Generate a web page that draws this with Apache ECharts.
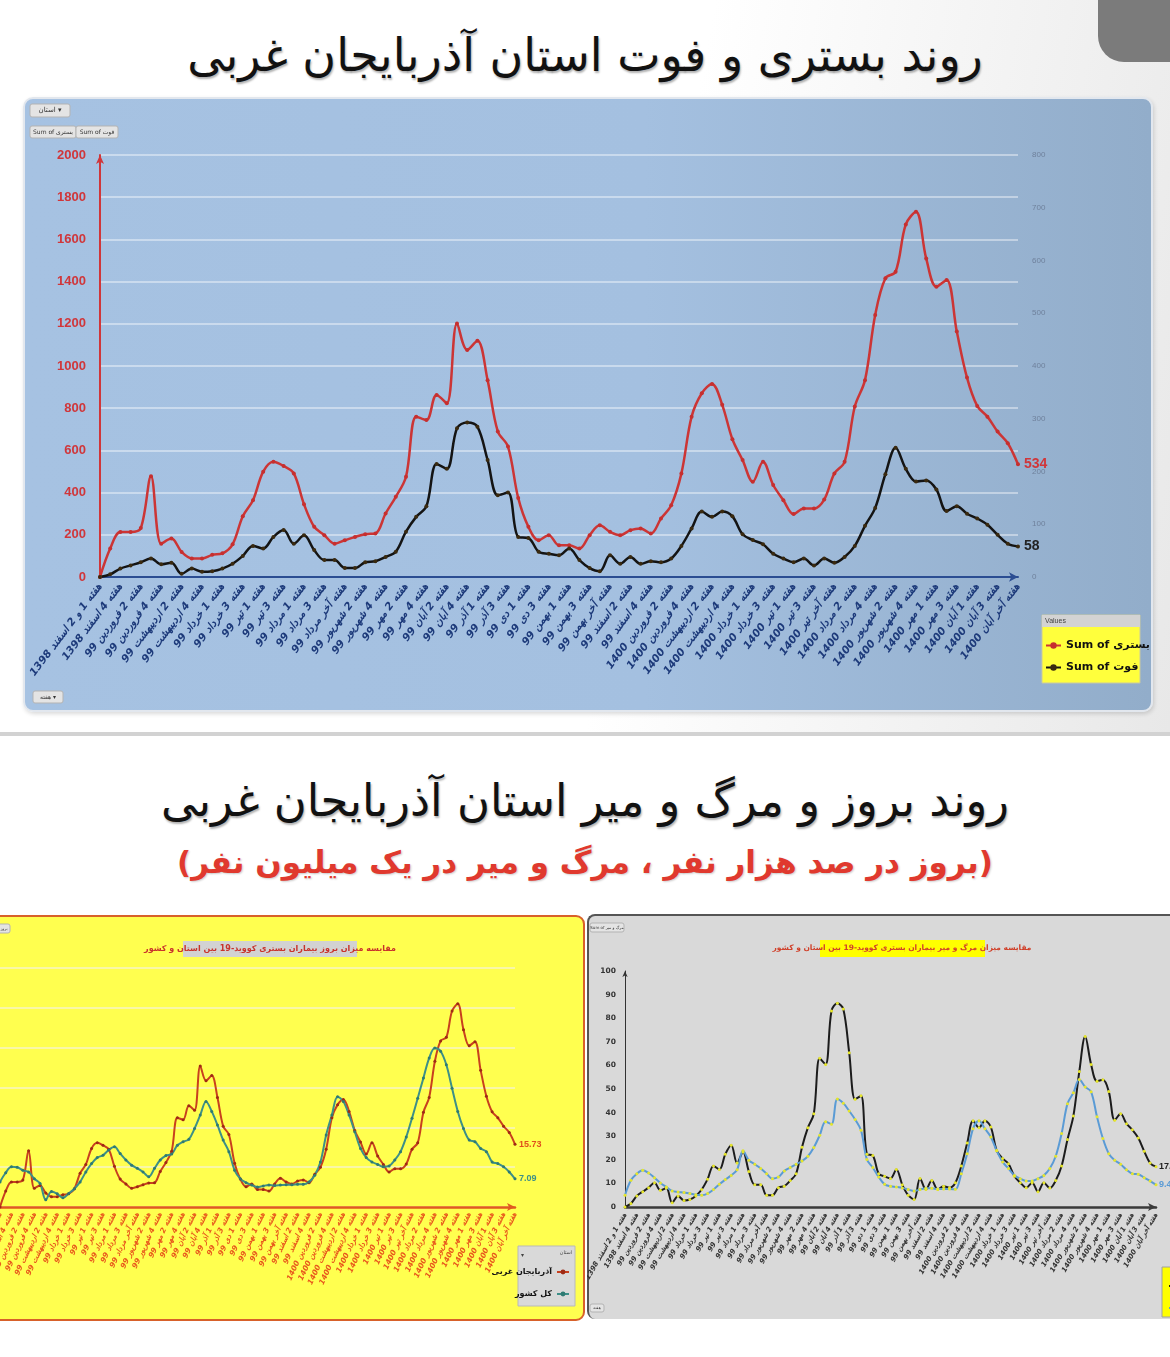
<!DOCTYPE html>
<html>
<head>
<meta charset="UTF-8">
<title>روند بستری و فوت استان آذربایجان غربی</title>
<script src="https://cdn.jsdelivr.net/npm/echarts@6.0.0/dist/echarts.min.js"></script>
<style>
  body { margin:0; width:1170px; height:1357px; position:relative; overflow:hidden; background:#fff; font-family:"DejaVu Sans", sans-serif; }
  .abs { position:absolute; }
  #topBg { left:0; top:0; width:1170px; height:732px; background:linear-gradient(100deg,#ffffff 55%,#e8e8e8 100%); }
  #corner { left:1098px; top:0; width:72px; height:62px; background:#7b7b7b; border-bottom-left-radius:26px; }
  #sep { left:0; top:732px; width:1170px; height:4px; background:#d2d2d2; }
  .title { left:0; width:1170px; text-align:center; white-space:nowrap; }
  #title1 { top:24px; line-height:62px; font-size:46px; color:#111; text-shadow:1px 2px 2px rgba(0,0,0,.3); }
  #title2 { top:770px; line-height:62px; font-size:45px; color:#111; text-shadow:1px 2px 2px rgba(0,0,0,.3); }
  #title3 { top:837px; line-height:50px; font-size:31px; font-weight:bold; color:#e0392e; text-shadow:1px 1px 2px rgba(0,0,0,.2); }
  #panelTop { left:23px; top:97px; width:1130px; height:615px; box-sizing:border-box; border:2px solid #e2e7ee; border-radius:10px;
              background:linear-gradient(90deg,#a6c2e2 0%,#a4c0e0 55%,#92adca 100%); box-shadow:1px 2px 4px rgba(0,0,0,.15); }
  #panelInc { left:-4px; top:915px; width:589px; height:406px; box-sizing:border-box; border:2px solid #d8612a; border-radius:0 9px 9px 0; background:#ffff4f; }
  #panelMort { left:587px; top:914px; width:590px; height:405px; box-sizing:border-box; border-top:2px solid #555; border-left:2px solid #555; border-radius:8px 0 0 8px; background:#d9d9d9; }
</style>
</head>
<body>
<div id="topBg" class="abs"></div>
<div id="corner" class="abs"></div>
<div id="title1" class="abs title" dir="rtl">روند بستری و فوت استان آذربایجان غربی</div>
<div id="panelTop" class="abs"></div>
<div id="chartTop" class="abs" style="left:23px;top:97px;width:1130px;height:615px;"></div>
<div id="sep" class="abs"></div>
<div id="title2" class="abs title" dir="rtl">روند بروز و مرگ و میر استان آذربایجان غربی</div>
<div id="title3" class="abs title" dir="rtl">(بروز در صد هزار نفر ، مرگ و میر در یک میلیون نفر)</div>
<div id="panelInc" class="abs"></div>
<div id="panelMort" class="abs"></div>
<div id="chartInc" class="abs" style="left:0;top:915px;width:585px;height:405px;"></div>
<div id="chartMort" class="abs" style="left:587px;top:915px;width:583px;height:405px;"></div>

<script type="text/javascript">
// هفته ها (هر دو هفته یک برچسب دیده می شود)
var weekLabels = [
  'هفته 1 و 2 اسفند 1398', 'هفته 3 اسفند 1398', 'هفته 4 اسفند 1398',
  'هفته 1 فروردین 99', 'هفته 2 فروردین 99', 'هفته 3 فروردین 99', 'هفته 4 فروردین 99',
  'هفته 1 اردیبهشت 99', 'هفته 2 اردیبهشت 99', 'هفته 3 اردیبهشت 99', 'هفته 4 اردیبهشت 99', 'هفته آخر اردیبهشت 99',
  'هفته 1 خرداد 99', 'هفته 2 خرداد 99', 'هفته 3 خرداد 99', 'هفته 4 خرداد 99',
  'هفته 1 تیر 99', 'هفته 2 تیر 99', 'هفته 3 تیر 99', 'هفته 4 تیر 99',
  'هفته 1 مرداد 99', 'هفته 2 مرداد 99', 'هفته 3 مرداد 99', 'هفته 4 مرداد 99', 'هفته آخر مرداد 99',
  'هفته 1 شهریور 99', 'هفته 2 شهریور 99', 'هفته 3 شهریور 99', 'هفته 4 شهریور 99',
  'هفته 1 مهر 99', 'هفته 2 مهر 99', 'هفته 3 مهر 99', 'هفته 4 مهر 99',
  'هفته 1 آبان 99', 'هفته 2 آبان 99', 'هفته 3 آبان 99', 'هفته 4 آبان 99', 'هفته آخر آبان 99',
  'هفته 1 آذر 99', 'هفته 2 آذر 99', 'هفته 3 آذر 99', 'هفته 4 آذر 99',
  'هفته 1 دی 99', 'هفته 2 دی 99', 'هفته 3 دی 99', 'هفته 4 دی 99',
  'هفته 1 بهمن 99', 'هفته 2 بهمن 99', 'هفته 3 بهمن 99', 'هفته 4 بهمن 99', 'هفته آخر بهمن 99',
  'هفته 1 اسفند 99', 'هفته 2 اسفند 99', 'هفته 3 اسفند 99', 'هفته 4 اسفند 99',
  'هفته 1 فروردین 1400', 'هفته 2 فروردین 1400', 'هفته 3 فروردین 1400', 'هفته 4 فروردین 1400',
  'هفته 1 اردیبهشت 1400', 'هفته 2 اردیبهشت 1400', 'هفته 3 اردیبهشت 1400', 'هفته 4 اردیبهشت 1400', 'هفته آخر اردیبهشت 1400',
  'هفته 1 خرداد 1400', 'هفته 2 خرداد 1400', 'هفته 3 خرداد 1400', 'هفته 4 خرداد 1400',
  'هفته 1 تیر 1400', 'هفته 2 تیر 1400', 'هفته 3 تیر 1400', 'هفته 4 تیر 1400', 'هفته آخر تیر 1400',
  'هفته 1 مرداد 1400', 'هفته 2 مرداد 1400', 'هفته 3 مرداد 1400', 'هفته 4 مرداد 1400',
  'هفته 1 شهریور 1400', 'هفته 2 شهریور 1400', 'هفته 3 شهریور 1400', 'هفته 4 شهریور 1400', 'هفته آخر شهریور 1400',
  'هفته 1 مهر 1400', 'هفته 2 مهر 1400', 'هفته 3 مهر 1400', 'هفته 4 مهر 1400',
  'هفته 1 آبان 1400', 'هفته 2 آبان 1400', 'هفته 3 آبان 1400', 'هفته 4 آبان 1400', 'هفته آخر آبان 1400'
];

// بستری و فوت (تعداد)
var hospitalized = [0,135,213,213,232,478,158,182,119,88, 88,105,112,155,288,364,499,546,526,491,
  345,238,198,158,174,190,203,206,301,380, 475,760,744,863,824,1202,1076,1120,933,690,
  618,375,238,174,198,150,150,135,198,245, 214,198,222,230,206,277,340,491,760,871,
  915,816,653,554,451,546,436,364,298,325, 325,367,491,546,808,933,1242,1416,1447,1671,
  1731,1510,1376,1408,1163,945,811,760,689,634, 534];
var deaths = [0,5,16,22,28,35,24,27,6,16, 10,11,16,25,40,59,54,76,89,63,
  79,51,32,32,17,17,28,30,38,48, 86,114,134,214,205,282,293,285,222,155,
  160,76,74,48,44,41,54,32,17,11, 41,25,38,25,30,28,35,59,92,124,
  114,124,115,81,70,62,44,35,28,35, 22,35,27,38,59,97,131,195,245,205,
  181,183,166,125,134,120,111,99,80,63, 58];

// بروز بستری در صد هزار نفر
var incProvince = [0,4.0,6.3,6.3,6.8,14.1,4.7,5.4,3.5,2.6, 2.6,3.1,3.3,4.6,8.5,10.7,14.7,16.1,15.5,14.5,
  10.2,7.0,5.8,4.7,5.1,5.6,6.0,6.1,8.9,11.2, 14.0,22.4,21.9,25.4,24.3,35.4,31.7,33.0,27.5,20.3,
  18.2,11.0,7.0,5.1,5.8,4.4,4.4,4.0,5.8,7.2, 6.3,5.8,6.5,6.8,6.1,8.2,10.0,14.5,22.4,25.7,
  27.0,24.0,19.2,16.3,13.3,16.1,12.8,10.7,8.8,9.6, 9.6,10.8,14.5,16.1,23.8,27.5,36.6,41.7,42.6,49.2,
  51.0,44.5,40.5,41.5,34.3,27.8,23.9,22.4,20.3,18.7, 15.73];
var incCountry = [6.3,8.6,10.1,10.0,9.2,8.8,7.1,5.9,1.8,3.9, 3.3,2.3,3.4,4.6,6.3,8.8,10.9,12.4,13.0,14.3,
  15.1,13.4,11.8,10.5,9.7,8.8,7.6,9.7,11.8,12.9, 13.3,15.5,16.4,17.0,19.7,23.1,26.5,24.0,20.6,16.8,
  13.9,9.2,7.1,6.1,5.5,5.0,5.3,5.5,5.4,5.5, 5.6,5.6,5.7,5.7,6.3,8.0,11.3,18.1,23.1,27.7,
  26.5,23.1,18.9,14.7,12.4,11.3,10.7,10.1,10.3,11.8, 13.9,17.6,22.3,27.3,32.4,37.4,39.9,39.1,35.7,29.8,
  24.0,19.7,16.8,16.4,14.7,13.9,11.3,10.9,10.1,8.8, 7.09];

// مرگ و میر در یک میلیون نفر
var mortProvince = [0,1.5,4.7,6.5,8.2,10.3,7.1,8.0,1.8,4.7, 2.8,3.2,4.7,7.4,11.8,17.4,15.9,22.4,26.2,18.6,
  23.3,15.0,9.4,9.4,5.0,5.0,8.2,8.8,11.2,14.1, 25.3,33.6,39.5,63.0,60.4,83.1,86.3,83.9,65.4,45.7,
  47.1,22.4,21.8,14.1,13.0,12.1,15.9,9.4,5.0,3.2, 12.1,7.4,11.2,7.4,8.8,8.2,10.3,17.4,27.1,36.5,
  33.6,36.5,33.9,23.9,20.6,18.3,13.0,10.3,8.2,10.3, 6.5,10.3,8.0,11.2,17.4,28.6,38.6,57.4,72.2,60.4,
  53.3,53.9,48.9,36.8,39.5,35.3,32.7,29.2,23.6,18.6, 17.08];
var mortCountry = [5.0,11.3,14.1,15.6,14.4,12.4,10.2,8.5,6.8,6.4, 6.1,5.7,5.2,5.0,5.7,7.4,9.6,11.6,13.4,15.8,
  23.8,19.8,18.1,16.3,14.1,12.0,12.7,15.3,16.7,18.1, 19.5,21.5,25.2,30.4,36.1,35.1,45.8,44.0,40.7,37.1,
  32.5,20.1,16.7,12.7,9.6,8.8,8.5,8.1,7.4,6.8, 7.4,7.9,7.9,7.6,7.6,7.6,7.5,14.1,22.6,33.2,
  36.5,33.2,29.7,23.8,19.1,16.3,13.4,12.0,11.0,11.0, 12.0,13.4,16.3,21.5,31.1,43.8,48.4,54.0,50.9,48.8,
  38.2,29.0,22.6,19.8,18.1,15.8,14.1,13.9,12.4,11.0, 9.40];

var FA = '"DejaVu Sans", sans-serif';
var NUM = '"Liberation Sans", "DejaVu Sans", sans-serif';
var NARROW = '"Liberation Sans Narrow", "DejaVu Sans", sans-serif';

// دکمه های کوچک pivot chart
function fieldButton(x, y, w, h, text, size) {
    return {
        type: 'group', x: x, y: y, silent: true,
        children: [
            { type: 'rect', shape: { x: 0, y: 0, width: w, height: h, r: 2 },
              style: { fill: '#e4e4e4', stroke: '#b3b3b3', lineWidth: 1 } },
            { type: 'text', style: { x: w / 2, y: h / 2, text: text, fill: '#333',
              font: size + 'px ' + FA, align: 'center', verticalAlign: 'middle' } }
        ]
    };
}

function fixed2(p) { return p.value.toFixed(2); }
function plain(v) { return String(v); }

// ---------- نمودار بالا: بستری و فوت ----------
var topChart = echarts.init(document.getElementById('chartTop'));
topChart.setOption({
    animation: false,
    textStyle: { fontFamily: NUM },
    grid: { left: 77, right: 135, top: 58, bottom: 135, outerBoundsMode: 'none' },
    graphic: [
        fieldButton(7, 7, 40, 13, 'استان ▾', 7),
        fieldButton(7, 29, 46, 12, 'Sum of بستری', 6),
        fieldButton(53, 29, 42, 12, 'Sum of فوت', 6),
        fieldButton(10, 594, 30, 12, 'هفته ▾', 6),
        { type: 'rect', shape: { x: 1019, y: 518, width: 98, height: 68 },
          style: { fill: '#ffff3c', stroke: '#c9c9a0', lineWidth: 1 } },
        { type: 'rect', shape: { x: 1019, y: 518, width: 98, height: 12 },
          style: { fill: '#d3d3d3' } },
        { type: 'text', style: { x: 1022, y: 524, text: 'Values', fill: '#444',
          font: '7px ' + NUM, verticalAlign: 'middle' } }
    ],
    legend: {
        orient: 'vertical', left: 1020, top: 538, itemGap: 11,
        itemWidth: 15, itemHeight: 8, padding: [5, 2],
        textStyle: { fontSize: 11, fontWeight: 'bold', color: '#111', fontFamily: NARROW },
        data: ['Sum of بستری', 'Sum of فوت']
    },
    xAxis: {
        type: 'category', data: weekLabels, boundaryGap: false,
        axisTick: { show: false },
        axisLine: { lineStyle: { color: '#2b4d92', width: 2 }, symbol: ['none', 'arrow'], symbolSize: [7, 9] },
        axisLabel: { interval: 1, rotate: 53, color: '#1d3a7a', fontWeight: 'bold', fontStyle: 'italic',
                     fontSize: 10.5, fontFamily: FA, margin: 8 }
    },
    yAxis: [{
        type: 'value', min: 0, max: 2000, interval: 200,
        axisLine: { show: true, lineStyle: { color: '#d0363a', width: 2 }, symbol: ['none', 'arrow'], symbolSize: [6, 9] },
        axisLabel: { color: '#d0363a', fontWeight: 'bold', fontSize: 13, margin: 14, formatter: plain },
        splitLine: { lineStyle: { color: 'rgba(255,255,255,0.55)', width: 1.5 } }
    }, {
        type: 'value', min: 0, max: 800, interval: 100, position: 'right',
        axisLine: { show: false }, axisTick: { show: false },
        axisLabel: { color: '#6f819c', fontSize: 8, margin: 14, formatter: plain },
        splitLine: { show: false }
    }],
    series: [{
        name: 'Sum of بستری', type: 'line', yAxisIndex: 0, data: hospitalized,
        smooth: 0.35, symbol: 'circle', symbolSize: 4,
        lineStyle: { color: '#cc3535', width: 2.5 }, itemStyle: { color: '#c62f2f' },
        endLabel: { show: true, formatter: '{c}', color: '#d0363a', fontWeight: 'bold', fontSize: 14, distance: 6 }
    }, {
        name: 'Sum of فوت', type: 'line', yAxisIndex: 1, data: deaths,
        smooth: 0.35, symbol: 'circle', symbolSize: 4,
        lineStyle: { color: '#141414', width: 2.5 }, itemStyle: { color: '#3a2a10' },
        endLabel: { show: true, formatter: '{c}', color: '#222', fontWeight: 'bold', fontSize: 14, distance: 6 }
    }]
});

// ---------- نمودار زرد: بروز ----------
var incChart = echarts.init(document.getElementById('chartInc'));
incChart.setOption({
    animation: false,
    textStyle: { fontFamily: NUM },
    grid: { left: 0, right: 70, top: 53, bottom: 113, outerBoundsMode: 'none' },
    graphic: [
        fieldButton(-2, 9, 12, 9, 'بروز', 4),
        { type: 'rect', shape: { x: 183, y: 26, width: 174, height: 16 }, style: { fill: '#d2d2d2' } },
        { type: 'text', style: { x: 270, y: 34, text: 'مقایسه میزان بروز بیماران بستری کووید-19 بین استان و کشور',
          fill: '#c8322c', font: 'bold 8px ' + FA, align: 'center', verticalAlign: 'middle' } },
        { type: 'rect', shape: { x: 518, y: 331, width: 57, height: 60 },
          style: { fill: '#d9d9d9', stroke: '#b9b9b9', lineWidth: 1 } },
        { type: 'text', style: { x: 572, y: 338, text: 'استان', fill: '#444',
          font: '5px ' + FA, align: 'right', verticalAlign: 'middle' } },
        { type: 'text', style: { x: 521, y: 340, text: '▾', fill: '#444',
          font: '6px ' + FA, verticalAlign: 'middle' } }
    ],
    legend: {
        orient: 'vertical', right: 10, top: 348, align: 'right', itemGap: 14,
        itemWidth: 12, itemHeight: 6,
        textStyle: { fontSize: 8, fontWeight: 'bold', color: '#111', fontFamily: FA },
        data: ['آذربایجان غربی', 'کل کشور']
    },
    xAxis: {
        type: 'category', data: weekLabels, boundaryGap: false,
        axisTick: { show: false },
        axisLine: { lineStyle: { color: '#e05a1f', width: 2.5 }, symbol: ['none', 'arrow'], symbolSize: [6, 8] },
        axisLabel: { interval: 1, rotate: 65, color: '#e8571c', fontWeight: 'bold', fontStyle: 'italic',
                     fontSize: 7.5, fontFamily: FA, margin: 6 }
    },
    yAxis: {
        type: 'value', min: 0, max: 60, interval: 10,
        axisLine: { show: false }, axisLabel: { show: false },
        splitLine: { lineStyle: { color: '#f7f5c4', width: 1.5 } }
    },
    series: [{
        name: 'آذربایجان غربی', type: 'line', data: incProvince,
        smooth: 0.35, symbol: 'circle', symbolSize: 3,
        lineStyle: { color: '#c8401e', width: 2 }, itemStyle: { color: '#9e2a14' },
        endLabel: { show: true, formatter: fixed2, color: '#e0501c', fontWeight: 'bold', fontSize: 9, distance: 4 }
    }, {
        name: 'کل کشور', type: 'line', data: incCountry,
        smooth: 0.35, symbol: 'circle', symbolSize: 3,
        lineStyle: { color: '#3d8f87', width: 2 }, itemStyle: { color: '#2f7a73' },
        endLabel: { show: true, formatter: fixed2, color: '#3d8f87', fontWeight: 'bold', fontSize: 9, distance: 4 }
    }]
});

// ---------- نمودار خاکستری: مرگ و میر ----------
var mortChart = echarts.init(document.getElementById('chartMort'));
mortChart.setOption({
    animation: false,
    textStyle: { fontFamily: NUM },
    grid: { left: 38, right: 14, top: 56, bottom: 113, outerBoundsMode: 'none' },
    graphic: [
        fieldButton(3, 8, 34, 9, 'Sum of مرگ و میر', 4),
        fieldButton(3, 389, 14, 8, 'هفته', 4),
        { type: 'rect', shape: { x: 233, y: 25, width: 165, height: 17 }, style: { fill: '#ffff00' } },
        { type: 'text', style: { x: 315, y: 33, text: 'مقایسه میزان مرگ و میر بیماران بستری کووید-19 بین استان و کشور',
          fill: '#d0402a', font: 'bold 7.5px ' + FA, align: 'center', verticalAlign: 'middle' } },
        { type: 'rect', shape: { x: 575, y: 352, width: 12, height: 50 },
          style: { fill: '#ffff00', stroke: '#a0a0a0', lineWidth: 1 } }
    ],
    legend: {
        orient: 'vertical', left: 576, top: 362, itemGap: 14,
        itemWidth: 10, itemHeight: 6,
        textStyle: { fontSize: 8, fontWeight: 'bold', color: '#111', fontFamily: FA },
        data: ['آذربایجان غربی', 'کل کشور']
    },
    xAxis: {
        type: 'category', data: weekLabels, boundaryGap: false,
        axisTick: { show: false },
        axisLine: { lineStyle: { color: '#3a3a3a', width: 2.5 }, symbol: ['none', 'arrow'], symbolSize: [6, 8] },
        axisLabel: { interval: 1, rotate: 60, color: '#333', fontWeight: 'bold', fontStyle: 'italic',
                     fontSize: 7, fontFamily: FA, margin: 7 }
    },
    yAxis: {
        type: 'value', min: 0, max: 100, interval: 10,
        axisLine: { show: true, lineStyle: { color: '#333', width: 1 }, symbol: ['none', 'arrow'], symbolSize: [4, 6] },
        axisLabel: { color: '#333', fontWeight: 'bold', fontSize: 7.5, margin: 9, fontFamily: NARROW },
        splitLine: { show: false }
    },
    series: [{
        name: 'آذربایجان غربی', type: 'line', data: mortProvince,
        smooth: 0.35, symbol: 'circle', symbolSize: 3,
        lineStyle: { color: '#1c1c1c', width: 2 }, itemStyle: { color: '#e6e62a' },
        endLabel: { show: true, formatter: fixed2, color: '#222', fontWeight: 'bold', fontSize: 9, distance: 3 }
    }, {
        name: 'کل کشور', type: 'line', data: mortCountry,
        smooth: 0.35, symbol: 'circle', symbolSize: 3,
        lineStyle: { color: '#5a9bd5', width: 2 }, itemStyle: { color: '#e6e62a' },
        endLabel: { show: true, formatter: fixed2, color: '#5a9bd5', fontWeight: 'bold', fontSize: 9, distance: 3 }
    }]
});
</script>
</body>
</html>
